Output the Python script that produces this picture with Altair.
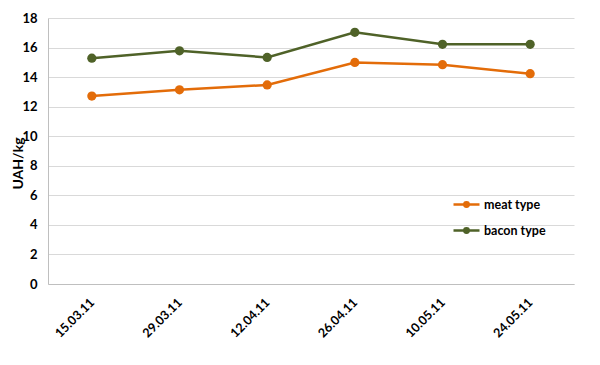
import altair as alt
import pandas as pd

dates = ["15.03.11", "29.03.11", "12.04.11", "26.04.11", "10.05.11", "24.05.11"]
meat = [12.72, 13.14, 13.47, 14.99, 14.84, 14.23]
bacon = [15.28, 15.78, 15.33, 17.03, 16.22, 16.22]
series = ["meat type", "bacon type"]
colors = ["#E36C09", "#4F6228"]

rows = []
for name, vals in zip(series, [meat, bacon]):
    for d, v in zip(dates, vals):
        rows.append({"date": d, "value": v, "series": name})
df = pd.DataFrame(rows)

FONT = "Lato"

x = alt.X("date:N", sort=dates, title=None,
          scale=alt.Scale(paddingInner=1, paddingOuter=0.5),
          axis=alt.Axis(labelAngle=-45, labelAlign="right", labelBaseline="middle",
                        labelPadding=16, ticks=False, domainColor="#BFBFBF",
                        labelFont=FONT, labelFontWeight="bold", labelFontSize=12.5,
                        labelColor="#000000", grid=False))
y = alt.Y("value:Q", title="UAH/kg",
          scale=alt.Scale(domain=[0, 18], nice=False),
          axis=alt.Axis(values=list(range(0, 19, 2)), ticks=False, domainColor="#BFBFBF",
                        gridColor="#D9D9D9", gridWidth=1, labelPadding=11,
                        labelFont=FONT, labelFontWeight="bold", labelFontSize=13,
                        labelColor="#000000", titleFont=FONT, titleFontWeight="bold",
                        titleFontSize=14, titleColor="#000000", titleX=-26, titleY=145,
                        titleAngle=-90, titleBaseline="alphabetic", titleAlign="center"))
color_scale = alt.Scale(domain=series, range=colors)

sym = "M-1,0L1,0M-0.17,0A0.17,0.17 0 1,1 0.17,0A0.17,0.17 0 1,1 -0.17,0"

lines = alt.Chart(df).mark_line(strokeWidth=2.5).encode(
    x=x, y=y,
    color=alt.Color("series:N", scale=color_scale, sort=series,
                    legend=alt.Legend(title=None, orient="none", legendX=404, legendY=172,
                                      symbolType=sym, symbolSize=676, symbolStrokeWidth=2.5,
                                      labelFont=FONT, labelFontWeight="bold", labelFontSize=12.5,
                                      labelColor="#000000", labelOffset=3, rowPadding=4,
                                      padding=0)),
)
points = alt.Chart(df).mark_circle(size=85, opacity=1).encode(
    x=x, y=y,
    color=alt.Color("series:N", scale=color_scale, sort=series, legend=None),
)

chart = alt.layer(lines, points).properties(
    width=526, height=266,
    autosize=alt.AutoSizeParams(type="none"),
    padding={"left": 40, "top": 10, "right": 18, "bottom": 73},
    background="white",
).configure_view(stroke=None)

chart.save("out.html", embed_options={"renderer": "svg", "actions": False})
